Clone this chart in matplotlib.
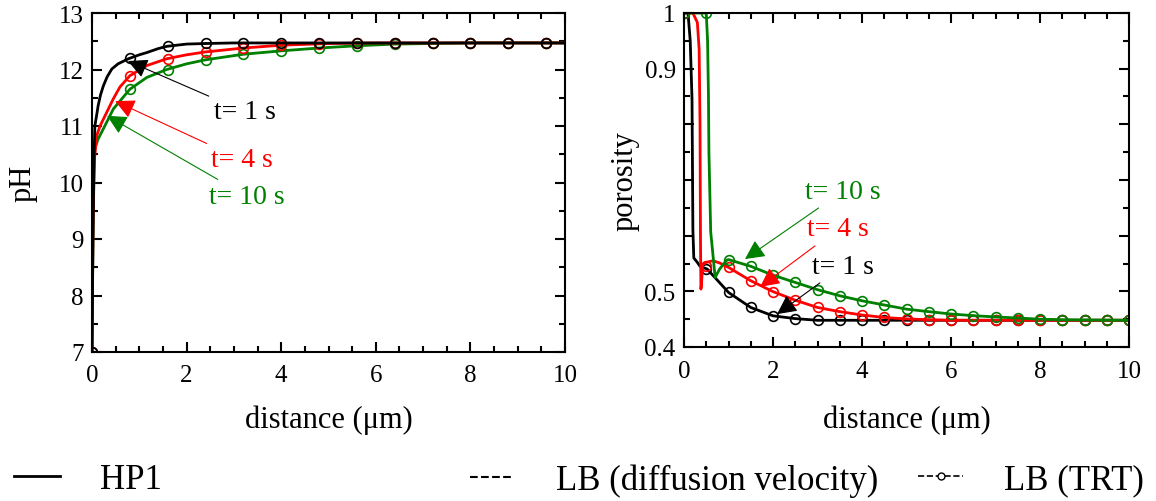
import matplotlib
matplotlib.use('Agg')
import matplotlib.pyplot as plt
from matplotlib.ticker import MultipleLocator, FuncFormatter
from matplotlib.lines import Line2D

plt.rcParams['font.family'] = ['Liberation Serif', 'DejaVu Serif']
plt.rcParams['mathtext.fontset'] = 'stix'

# ---- pH panel (HP1 lines) ----
ph_black_x = [0, 0.02, 0.04, 0.06, 0.1, 0.13, 0.18, 0.24, 0.32, 0.42, 0.55, 0.77, 1.0, 1.16, 1.4, 1.58, 2.0, 2.4, 3.0, 4.0, 10]
ph_black_y = [7, 9.0, 10.3, 11.0, 11.2, 11.36, 11.55, 11.71, 11.87, 12.01, 12.1, 12.19, 12.26, 12.30, 12.37, 12.41, 12.45, 12.46, 12.47, 12.47, 12.47]
ph_red_x = [0, 0.02, 0.05, 0.1, 0.17, 0.31, 0.45, 0.59, 0.8, 1.16, 1.58, 2.0, 2.39, 3.2, 4.0, 5.0, 6.0, 10]
ph_red_y = [7, 9.2, 10.4, 10.83, 11.0, 11.24, 11.48, 11.69, 11.89, 12.07, 12.19, 12.26, 12.31, 12.38, 12.43, 12.46, 12.47, 12.47]
ph_green_x = [0, 0.02, 0.04, 0.06, 0.13, 0.27, 0.45, 0.8, 1.16, 1.58, 2.0, 2.39, 3.2, 4.0, 4.8, 5.6, 6.4, 7.2, 8.0, 10]
ph_green_y = [7, 9.0, 10.2, 10.6, 10.77, 11.0, 11.3, 11.65, 11.86, 12.0, 12.1, 12.17, 12.27, 12.33, 12.38, 12.42, 12.45, 12.46, 12.47, 12.47]

# pH panel, LB (TRT) markers
ph_trt_x = [0, 0.8, 1.6, 2.4, 3.2, 4.0, 4.8, 5.6, 6.4, 7.2, 8.0, 8.8, 9.6]
ph_trt_black = [7, 12.21, 12.41, 12.47, 12.47, 12.47, 12.47, 12.47, 12.47, 12.47, 12.47, 12.47, 12.47]
ph_trt_red = [7, 11.89, 12.19, 12.31, 12.38, 12.44, 12.46, 12.47, 12.47, 12.47, 12.47, 12.47, 12.47]
ph_trt_green = [7, 11.66, 12.0, 12.17, 12.27, 12.33, 12.38, 12.42, 12.45, 12.47, 12.47, 12.47, 12.47]

# ---- porosity panel (HP1 lines) ----
por_black_x = [0, 0.09, 0.14, 0.18, 0.2, 0.22, 0.29, 0.36, 0.52, 0.75, 1.0, 1.5, 2.0, 2.5, 3.0, 10]
por_black_y = [1, 1, 0.95, 0.845, 0.61, 0.56, 0.553, 0.545, 0.54, 0.52, 0.498, 0.471, 0.456, 0.451, 0.448, 0.448]
por_red_x = [0, 0.2, 0.3, 0.34, 0.36, 0.37, 0.38, 0.39, 0.42, 0.5, 0.65, 0.8, 1.0, 1.5, 2.0, 2.5, 3.0, 3.5, 4.0, 4.5, 5.0, 5.5, 6.0, 10]
por_red_y = [1, 1, 0.983, 0.935, 0.8, 0.6, 0.504, 0.51, 0.548, 0.552, 0.555, 0.551, 0.543, 0.519, 0.4995, 0.484, 0.471, 0.4635, 0.4575, 0.453, 0.4505, 0.449, 0.448, 0.448]
por_green_x = [0, 0.5, 0.53, 0.55, 0.56, 0.6, 0.7, 0.8, 0.96, 1.0, 1.5, 2.0, 2.5, 3.0, 3.5, 4.0, 4.5, 5.0, 5.5, 6.0, 6.5, 7.0, 7.5, 8.0, 8.5, 10]
por_green_y = [1, 1, 0.95, 0.85, 0.75, 0.607, 0.525, 0.54, 0.556, 0.557, 0.545, 0.529, 0.516, 0.503, 0.492, 0.483, 0.4755, 0.468, 0.4635, 0.4593, 0.4563, 0.454, 0.452, 0.45, 0.449, 0.448]

# porosity panel, LB (TRT) markers
por_trt_x = [0, 0.5, 1.0, 1.5, 2.0, 2.5, 3.0, 3.5, 4.0, 4.5, 5.0, 5.5, 6.0, 6.5, 7.0, 7.5, 8.0, 8.5, 9.0, 9.5, 10.0]
por_trt_black = [1.0, 0.540, 0.498, 0.471, 0.455, 0.4505, 0.448, 0.448, 0.448, 0.448, 0.448, 0.448, 0.448, 0.448, 0.448, 0.448, 0.448, 0.448, 0.448, 0.448, 0.448]
por_trt_red = [1.0, 0.545, 0.543, 0.519, 0.4995, 0.484, 0.471, 0.4635, 0.4575, 0.453, 0.4505, 0.449, 0.448, 0.448, 0.448, 0.448, 0.448, 0.448, 0.448, 0.448, 0.448]
por_trt_green = [1.0, 1.0, 0.557, 0.545, 0.529, 0.516, 0.503, 0.492, 0.483, 0.4755, 0.468, 0.4635, 0.4593, 0.4563, 0.454, 0.452, 0.45, 0.449, 0.448, 0.448, 0.448]

times = ['t= 1 s', 't= 4 s', 't= 10 s']
colors = ['black', 'red', '#008000']

fig = plt.figure(figsize=(11.56, 5.02), dpi=100)
ax1 = fig.add_axes([92 / 1156, 149 / 502, 473 / 1156, 339 / 502])
ax2 = fig.add_axes([684 / 1156, 154 / 502, 445 / 1156, 334 / 502])

mk = dict(marker='o', ms=7, mfc='none', mew=1.2, ls='none')

# left: pH
ph_lines = [(ph_black_x, ph_black_y, ph_trt_black), (ph_red_x, ph_red_y, ph_trt_red),
            (ph_green_x, ph_green_y, ph_trt_green)]
for (x, y, trt), c in list(zip(ph_lines, colors))[::-1]:
    ax1.plot(x, y, color=c, lw=2.0)
    ax1.plot(x, y, color=c, lw=1.0, ls='--')
    ax1.plot(ph_trt_x, trt, color=c, mec=c, **mk)

# right: porosity
por_lines = [(por_black_x, por_black_y, por_trt_black), (por_red_x, por_red_y, por_trt_red),
             (por_green_x, por_green_y, por_trt_green)]
for (x, y, trt), c in zip(por_lines, colors):
    ax2.plot(x, y, color=c, lw=2.0)
    ax2.plot(x, y, color=c, lw=1.0, ls='--')
    ax2.plot(por_trt_x, trt, color=c, mec=c, **mk)

# annotations (text position, arrow tip)
ph_notes = [((2.58, 11.25), (0.76, 12.15)), ((2.52, 10.40), (0.49, 11.44)), ((2.47, 9.76), (0.32, 11.18))]
por_notes = [((2.88, 0.5455), (2.09, 0.459)), ((2.76, 0.612), (1.71, 0.508)), ((2.72, 0.680), (1.37, 0.558))]
for ax, notes in [(ax1, ph_notes), (ax2, por_notes)]:
    for (txt_xy, tip), lab, c in zip(notes, times, colors):
        ax.annotate(lab, xy=tip, xytext=txt_xy, color=c, fontsize=20, ha='left', va='center',
                    arrowprops=dict(arrowstyle='-|>,head_length=0.6,head_width=0.3', color=c,
                                    lw=0.8, mutation_scale=20, shrinkA=2, shrinkB=0))

for ax in (ax1, ax2):
    ax.set_xlim(0, 10)
    ax.xaxis.set_major_locator(MultipleLocator(2))
    ax.xaxis.set_minor_locator(MultipleLocator(0.5))
    ax.tick_params(which='both', direction='in', top=True, right=True, labelsize=18, width=1.5)
    ax.tick_params(which='major', length=7)
    ax.tick_params(which='minor', length=4)
    ax.tick_params(axis='x', pad=9)
    ax.tick_params(axis='y', pad=6)
    for s in ax.spines.values():
        s.set_linewidth(1.5)
    ax.set_xlabel('distance (μm)', fontsize=22)

ax1.set_ylim(7, 13)
ax1.yaxis.set_major_locator(MultipleLocator(1))
ax1.yaxis.set_minor_locator(MultipleLocator(0.5))
ax1.set_ylabel('pH', fontsize=22)
ax1.yaxis.set_label_coords(-0.116, 0.5)
ax1.xaxis.set_label_coords(0.5, -0.156)

ax2.set_ylim(0.4, 1.0)
ax2.yaxis.set_major_locator(MultipleLocator(0.1))
ax2.yaxis.set_minor_locator(MultipleLocator(0.05))
shown = [0.4, 0.5, 0.9, 1.0]
ax2.yaxis.set_major_formatter(FuncFormatter(
    lambda v, p: '%g' % round(v, 2) if any(abs(v - s) < 1e-6 for s in shown) else ''))
ax2.set_ylabel('porosity', fontsize=22)
ax2.yaxis.set_label_coords(-0.101, 0.5)
ax2.xaxis.set_label_coords(0.5, -0.171)

# legend along the bottom
leg_y = 21 / 502
entries = [
    (Line2D([], [], color='black', lw=2), 'HP1', 14 / 1156, 1.33, 1.15),
    (Line2D([], [], color='black', lw=1.5, ls='--'), 'LB (diffusion velocity)', 470 / 1156, 1.2, 1.27),
    (Line2D([], [], color='black', lw=1.2, ls='--', marker='o', ms=5, mfc='white'), 'LB (TRT)', 918 / 1156, 1.3, 1.18),
]
for h, lab, xpos, hl, tp in entries:
    fig.legend([h], [lab], loc='center left', bbox_to_anchor=(xpos, leg_y), frameon=False,
               fontsize=25, handlelength=hl, handletextpad=tp, borderpad=0, borderaxespad=0)

plt.savefig('out.png', dpi=100)
